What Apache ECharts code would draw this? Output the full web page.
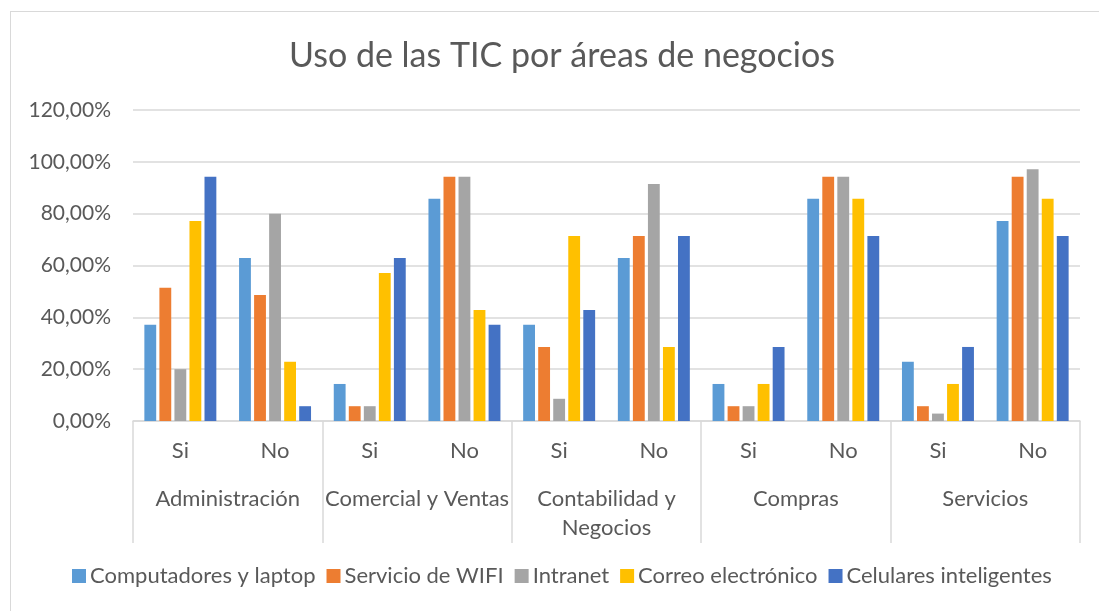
<!DOCTYPE html>
<html>
<head>
<meta charset="utf-8">
<script src="https://cdn.jsdelivr.net/npm/echarts@6/dist/echarts.min.js"></script>
<style>
  html, body { margin: 0; padding: 0; overflow: hidden; background: #fff; }
  #chart { width: 1099px; height: 611px; }
  #frame { position: absolute; left: 10px; top: 11px; width: 1200px; height: 700px;
           border: 1px solid #d9d9d9; pointer-events: none; }
</style>
</head>
<body>
<div id="chart"></div>
<div id="frame"></div>
<script>
    // datos del grafico
    var respuestas = ['Si', 'No', 'Si', 'No', 'Si', 'No', 'Si', 'No', 'Si', 'No'];
    var areas = ['Administración', 'Comercial y Ventas', 'Contabilidad y\nNegocios', 'Compras', 'Servicios'];
    var nombres = ['Computadores y laptop', 'Servicio de WIFI', 'Intranet', 'Correo electrónico', 'Celulares inteligentes'];
    var colores = ['#5B9BD5', '#ED7D31', '#A5A5A5', '#FFC000', '#4472C4'];

    var computadores = [37.14, 62.86, 14.29, 85.71, 37.14, 62.86, 14.29, 85.71, 22.86, 77.14];
    var wifi         = [51.43, 48.57, 5.71, 94.29, 28.57, 71.43, 5.71, 94.29, 5.71, 94.29];
    var intranet     = [20.00, 80.00, 5.71, 94.29, 8.57, 91.43, 5.71, 94.29, 2.86, 97.14];
    var correo       = [77.14, 22.86, 57.14, 42.86, 71.43, 28.57, 14.29, 85.71, 14.29, 85.71];
    var celulares    = [94.29, 5.71, 62.86, 37.14, 42.86, 71.43, 28.57, 71.43, 28.57, 71.43];

    var valores = [computadores, wifi, intranet, correo, celulares];
    var gris = '#595959';
    var linea = '#d9d9d9';
    var fuente = 'Lato, "Open Sans", sans-serif';

    var myChart = echarts.init(document.getElementById('chart'));

    var series = [];
    for (var i = 0; i < nombres.length; i++) {
        series.push({
            name: nombres[i],
            type: 'bar',
            data: valores[i],
            barGap: '27%',
            barCategoryGap: '24%',
            itemStyle: { color: colores[i] }
        });
    }

    var option = {
        animation: false,
        textStyle: { fontFamily: fuente, color: gris },
        title: {
            text: 'Uso de las TIC por áreas de negocios',
            left: 284,
            top: 34,
            textStyle: { fontFamily: fuente, fontSize: 34, fontWeight: 'normal', color: gris }
        },
        legend: {
            data: nombres,
            bottom: 19,
            left: 67,
            icon: 'rect',
            itemWidth: 14,
            itemHeight: 14,
            itemGap: 11,
            itemStyle: { borderWidth: 0 },
            textStyle: { fontFamily: fuente, fontSize: 22, color: gris, padding: [0, 0, 0, -1] }
        },
        grid: { left: 133, right: 19, top: 110, bottom: 190 },
        xAxis: [
            {
                type: 'category',
                data: respuestas,
                position: 'bottom',
                axisLine: { lineStyle: { color: linea, width: 1.5 } },
                axisTick: { show: false },
                axisLabel: { interval: 0, margin: 19, fontSize: 22, color: gris, fontFamily: fuente }
            },
            {
                type: 'category',
                data: areas,
                position: 'bottom',
                axisLine: { show: false },
                axisTick: { show: true, interval: 0, length: 122, lineStyle: { color: linea, width: 1.5 } },
                axisLabel: { interval: 0, margin: 63, fontSize: 22, lineHeight: 29, color: gris, fontFamily: fuente }
            }
        ],
        yAxis: {
            type: 'value',
            min: 0,
            max: 120,
            interval: 20,
            axisLine: { show: false },
            axisTick: { show: false },
            splitLine: { lineStyle: { color: linea, width: 1.5 } },
            axisLabel: {
                fontSize: 21,
                margin: 22,
                color: gris,
                fontFamily: fuente,
                formatter: function (v) { return v.toFixed(2).replace('.', ',') + '%'; }
            }
        },
        series: series
    };

    myChart.setOption(option);
</script>
</body>
</html>
